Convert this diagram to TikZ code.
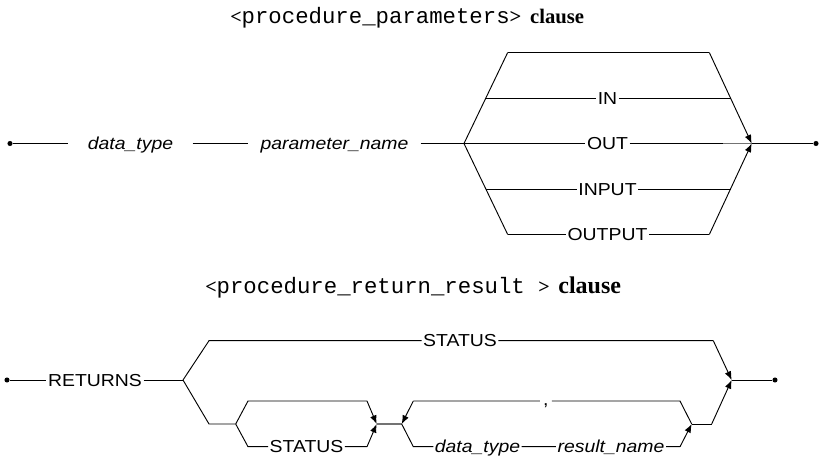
\documentclass[tikz,border=0pt]{standalone}
\usepackage{fontspec}
\usetikzlibrary{arrows.meta}
\newfontfamily\rrlab{Liberation Sans}[FakeStretch=1.12]
\newfontfamily\rrmono{Liberation Mono}
\newfontfamily\rrserif{Liberation Serif}
\begin{document}
\begin{tikzpicture}[x=0.75pt,y=-0.75pt,
  ln/.style={line width=0.7pt},
  arr/.style={line width=0.7pt,-{Latex[length=6.5pt,width=5pt]}},
  grayseg/.style={draw=black!55,line width=1.3pt},
  lbl/.style={font=\rrlab\fontsize{13}{15}\selectfont, inner xsep=1pt, inner ysep=0pt, text height=9.3pt, text depth=0pt},
  ilbl/.style={lbl, font=\rrlab\itshape\fontsize{13}{15}\selectfont},
  dotn/.style={circle, fill=black, inner sep=0pt, minimum size=3.8pt},
  ttl/.style={anchor=base west, inner sep=0pt}]
\useasboundingbox (0,0) rectangle (821,458);

% ---------- titles ----------
\node[ttl] (title1) at (230,23.5) {{\rrserif\bfseries\fontsize{15}{18}\selectfont <}{\rrmono\fontsize{16.75}{18}\selectfont procedure\_parameters}{\rrserif\bfseries\fontsize{15.5}{18}\selectfont >\hspace{6.5pt}clause}};
\node[ttl] (title2) at (205,293.5) {{\rrserif\bfseries\fontsize{15}{18}\selectfont <}{\rrmono\fontsize{16.75}{18}\selectfont procedure\_return\_result\ }{\rrserif\bfseries\fontsize{15}{18}\selectfont >\hspace{6.5pt}\fontsize{18}{20}\selectfont clause}};

% ---------- top diagram ----------
\node[dotn] (d1) at (10,143.5) {};
\node[ilbl, inner xsep=14.5pt] (dt) at (130.5,143.5) {data\_type};
\node[ilbl, inner xsep=9pt] (pn) at (334.5,143.5) {parameter\_name};
\coordinate (L) at (464,143.5);
\coordinate (R) at (751.7,143.5);
\coordinate (TL) at (507.7,52.5);
\coordinate (TR) at (709.3,52.5);
\coordinate (BL) at (507.7,234.5);
\coordinate (BR) at (709.3,234.5);
\coordinate (IL) at (485.9,98);
\coordinate (IR) at (730.5,98);
\coordinate (PL) at (485.9,189);
\coordinate (PR) at (730.5,189);
\coordinate (g1) at (723,143.5);
\node[dotn] (d2) at (816,143.5) {};

\node[lbl] (in) at (607.5,98) {IN};
\node[lbl] (out) at (607.5,143.5) {OUT};
\node[lbl] (inp) at (607.5,189) {INPUT};
\node[lbl] (outp) at (607.5,234.5) {OUTPUT};

\draw[ln] (d1) -- (dt) -- (pn) -- (L);
\draw[ln] (TL) -- (L) -- (BL);
\draw[ln] (TL) -- (TR);
\draw[ln] (IL) -- (in) -- (IR);
\draw[ln] (L) -- (out) -- (R);
\draw[grayseg] (g1) -- (R);
\draw[ln] (PL) -- (inp) -- (PR);
\draw[ln] (BL) -- (outp) -- (BR);
\draw[arr] (TR) -- (R);
\draw[arr] (BR) -- (R);
\draw[ln] (R) -- (d2);

% ---------- bottom diagram ----------
\node[dotn] (d3) at (7,380) {};
\node[lbl] (ret) at (95,380) {RETURNS};
\coordinate (F1) at (183,380);
\coordinate (U1) at (209,340.7);
\node[lbl] (st1) at (460,340.7) {STATUS};
\coordinate (U2) at (713.3,340.7);
\coordinate (M2) at (731.7,380);
\node[dotn] (d4) at (775,380) {};

\coordinate (D1) at (209,424);
\coordinate (F2) at (235.7,424);
\coordinate (A1) at (248,401);
\coordinate (A2) at (367,401);
\coordinate (M1) at (376.7,424);
\coordinate (B1) at (248,446.7);
\node[lbl] (st2) at (306.5,446.7) {STATUS};
\coordinate (B2) at (367,446.7);

\coordinate (L2) at (401.7,424);
\coordinate (C1) at (413.3,401);
\coordinate (C2) at (680,401);
\node[lbl, text height=0pt, text depth=0pt, inner xsep=2.3pt] (comma) at (545.8,401) {\raisebox{-3.5pt}{,}};
\coordinate (E1) at (413.3,446.7);
\node[ilbl] (dt2) at (477.5,446.7) {data\_type};
\node[ilbl] (rn) at (611,446.7) {result\_name};
\coordinate (E2) at (680,446.7);
\coordinate (R2) at (691.7,424);
\coordinate (K1) at (711.7,424);

\draw[ln] (d3) -- (ret) -- (F1);
\draw[ln] (F1) -- (U1) -- (st1) -- (U2);
\draw[arr] (U2) -- (M2);
\draw[ln] (F1) -- (D1) -- (F2);
\draw[ln] (F2) -- (A1) -- (A2);
\draw[arr] (A2) -- (M1);
\draw[ln] (F2) -- (B1) -- (st2) -- (B2);
\draw[arr] (B2) -- (M1);
\draw[grayseg] (M1) -- (L2);
\draw[ln] (L2) -- (E1) -- (dt2) -- (rn) -- (E2);
\draw[arr] (E2) -- (R2);
\draw[ln] (R2) -- (C2) -- (comma) -- (C1);
\draw[arr] (C1) -- (L2);
\draw[ln] (R2) -- (K1);
\draw[arr] (K1) -- (M2);
\draw[ln] (M2) -- (d4);
\end{tikzpicture}
\end{document}
